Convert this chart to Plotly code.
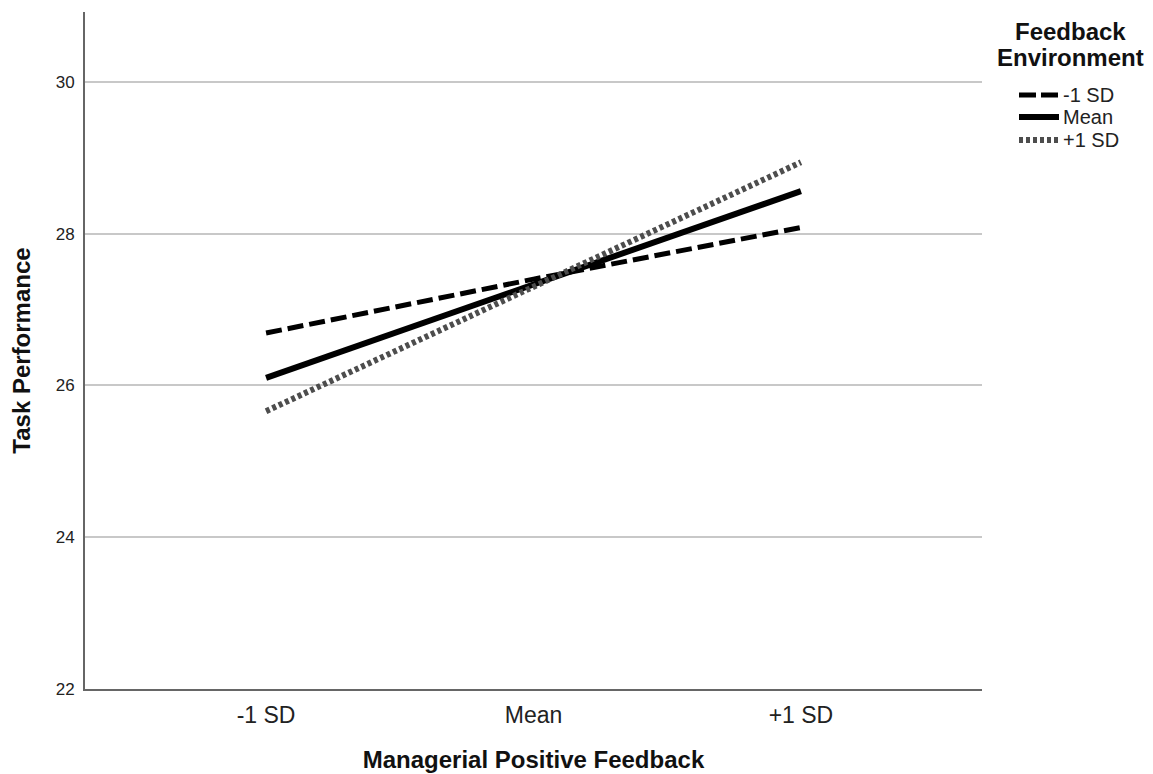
import plotly.graph_objects as go

categories = ["-1 SD", "Mean", "+1 SD"]
series_names = ["-1 SD", "Mean", "+1 SD"]
low_env = [26.69, 27.40, 28.08]
mean_env = [26.10, 27.33, 28.56]
high_env = [25.66, 27.30, 28.94]
y_ticks = [22, 24, 26, 28, 30]

# page body has an 8px margin; figure is sized so the plot area lands where the reference has it
W, H = 1145, 766
ML, MR, MT, MB = 77, 171, 4, 85
PW, PH = W - ML - MR, H - MT - MB
OFF = 8


def px_x(px):
    return (px - OFF - ML) / PW


def px_y(py):
    return (H - MB + OFF - py) / PH


styles = [
    dict(color="#000000", width=5, dash="16px,6px"),
    dict(color="#000000", width=6, dash="solid"),
    dict(color="#4d4d4d", width=6, dash="4px,3px"),
]

fig = go.Figure()
for name, vals, st in zip(series_names, [low_env, mean_env, high_env], styles):
    fig.add_trace(go.Scatter(x=[0, 1, 2], y=vals, mode="lines", name=name, line=st,
                             showlegend=False))

# legend drawn manually (title + entries) to match reference spacing
fig.add_annotation(text="<b>Feedback</b>", x=px_x(1070), y=px_y(32), xref="paper", yref="paper",
                   showarrow=False, xanchor="center", yanchor="middle",
                   font=dict(size=24, color="#111"))
fig.add_annotation(text="<b>Environment</b>", x=px_x(1070), y=px_y(58), xref="paper", yref="paper",
                   showarrow=False, xanchor="center", yanchor="middle",
                   font=dict(size=24, color="#111"))
legend_rows = [95, 117, 140]
legend_dash = ["17px,5px", "solid", "4px,3px"]
for name, st, ld, ry in zip(series_names, styles, legend_dash, legend_rows):
    fig.add_shape(type="line", xref="paper", yref="paper",
                  x0=px_x(1019), x1=px_x(1059), y0=px_y(ry), y1=px_y(ry),
                  line=dict(color=st["color"], width=st["width"], dash=ld))
    fig.add_annotation(text=name, x=px_x(1061), y=px_y(ry), xref="paper", yref="paper",
                       showarrow=False, xanchor="left", yanchor="middle",
                       font=dict(size=20, color="#222"))

fig.update_layout(
    width=W, height=H,
    margin=dict(l=ML, r=MR, t=MT, b=MB, autoexpand=False),
    plot_bgcolor="white", paper_bgcolor="white",
    font=dict(family="Liberation Sans, Arial, sans-serif", color="#222"),
    showlegend=False,
    xaxis=dict(
        tickmode="array", tickvals=[0, 1, 2], ticktext=categories,
        range=[-0.677, 2.677],
        showgrid=False, zeroline=False,
        showline=True, linecolor="#666", linewidth=2,
        ticks="", tickfont=dict(size=23, color="#222"), ticklabelstandoff=4,
        automargin=False,
        title=dict(text="<b>Managerial Positive Feedback</b>", font=dict(size=24, color="#111"), standoff=25),
    ),
    yaxis=dict(
        tickmode="array", tickvals=y_ticks,
        range=[22, 30.92],
        showgrid=True, gridcolor="#c8c8c8", gridwidth=1.5,
        zeroline=False,
        showline=True, linecolor="#666", linewidth=2,
        ticks="", tickfont=dict(size=17, color="#222"), ticklabelstandoff=5,
        automargin=False,
        title=dict(text="<b>Task Performance</b>", font=dict(size=24, color="#111"), standoff=22),
    ),
)

fig.write_html("out.html")
